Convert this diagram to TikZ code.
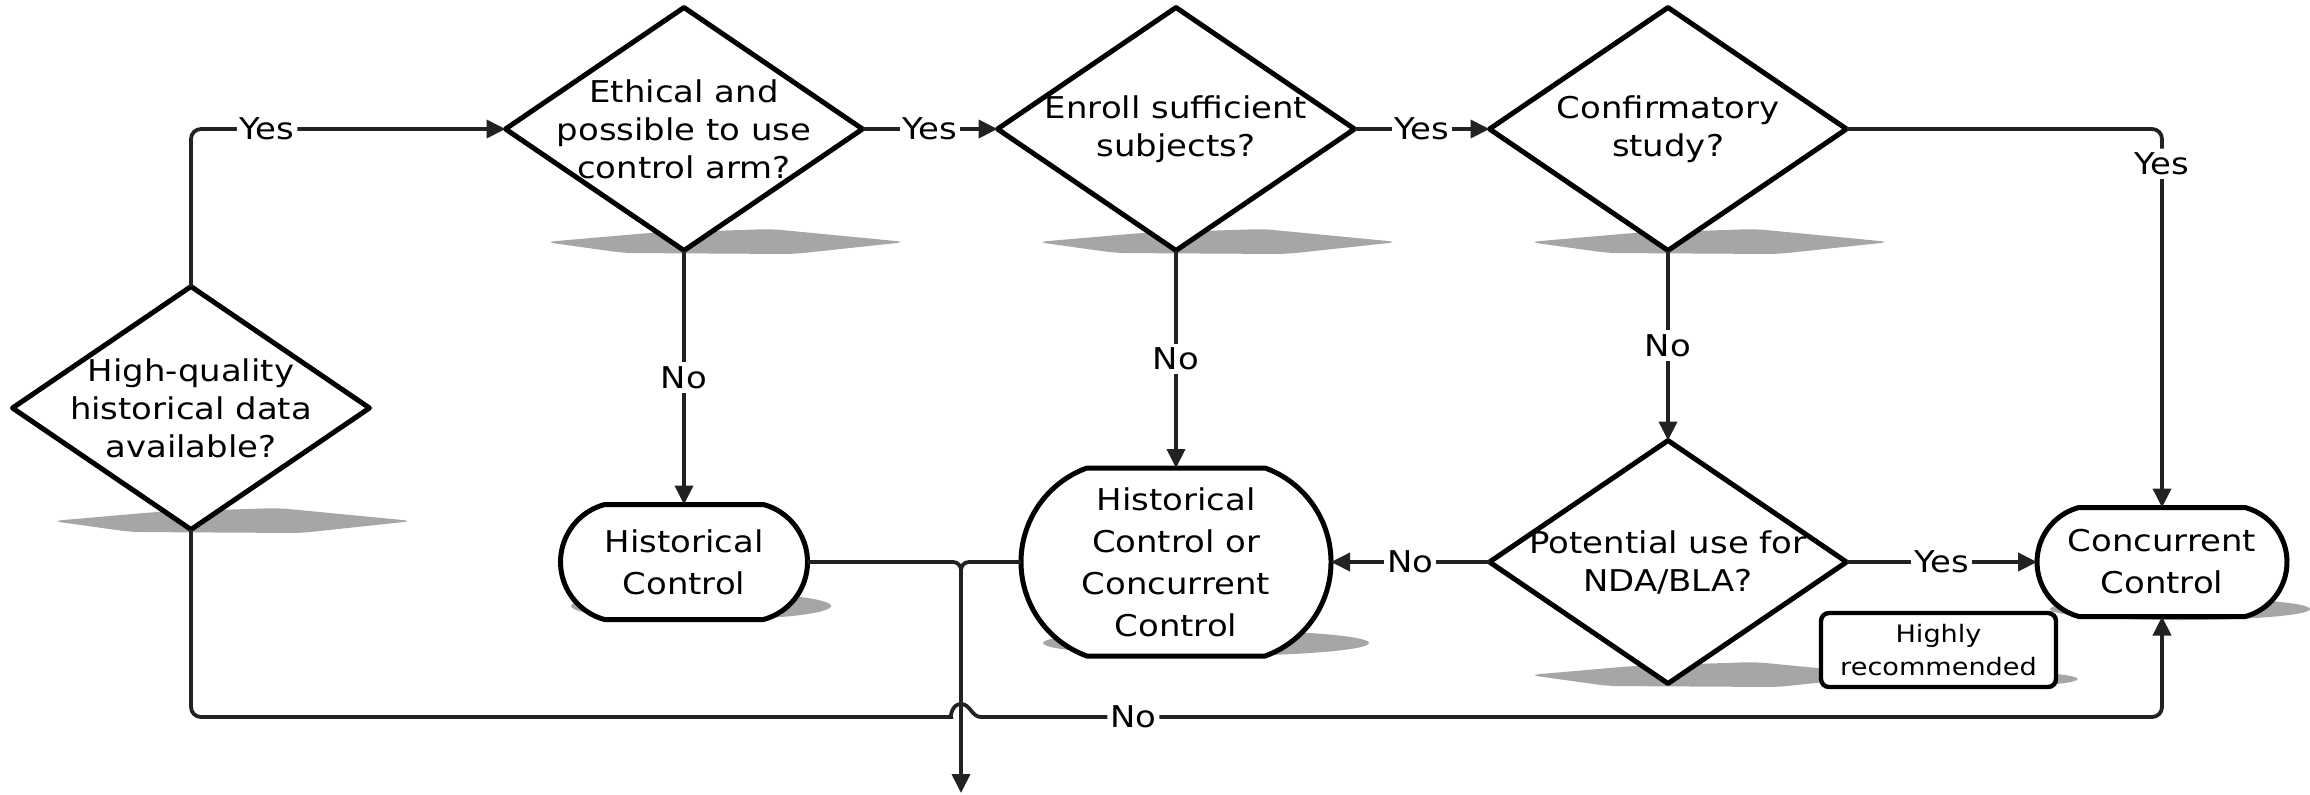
\documentclass[tikz,border=0pt]{standalone}
\usepackage{fontspec}
\setmainfont{DejaVu Sans}[FakeStretch=1.13]
\usetikzlibrary{shapes.geometric,shapes.misc,arrows.meta,calc,backgrounds}
\definecolor{linecol}{HTML}{222222}
\definecolor{shadcol}{HTML}{A6A6A6}
\tikzset{
  dia/.style={diamond, draw=black, line width=2.5pt, line join=round, fill=white,
    minimum width=178.5pt, minimum height=121.5pt, inner sep=0pt, outer sep=0pt},
  term/.style={rounded rectangle, draw=black, line width=2.5pt, fill=white,
    inner sep=0pt, outer sep=0pt},
  note/.style={rectangle, rounded corners=4pt, draw=black, line width=2.2pt, fill=white,
    minimum width=117.5pt, minimum height=37pt, inner sep=0pt, outer sep=0pt,
    align=center, font=\fontsize{12}{16.5}\selectfont},
  txt/.style={align=center, font=\fontsize{15}{19}\selectfont, inner sep=0pt},
  ttxt/.style={align=center, font=\fontsize{15}{21}\selectfont, inner sep=0pt},
  conn/.style={draw=linecol, line width=1.9pt},
  arr/.style={conn, -{Triangle[length=9.5pt,width=9pt]}},
  lab/.style={fill=white, inner xsep=1.5pt, inner ysep=2pt, text=black,
    font=\fontsize{15}{18}\selectfont},
  shad/.style={fill=shadcol, draw=none},
}
\begin{document}
\begin{tikzpicture}[x=0.5pt, y=-0.5pt]
\useasboundingbox (0,0) rectangle (2310,794);

% decisions
\node[dia] (d1) at (191,408) {};
\node[txt] (d1t) at (d1) {High-quality\\historical data\\available?};
\node[dia] (d2) at (684,129) {};
\node[txt] (d2t) at (d2) {Ethical and\\possible to use\\control arm?};
\node[dia] (d3) at (1176,129) {};
\node[txt] (d3t) at (d3) {Enroll sufficient\\subjects?};
\node[dia] (d4) at (1668,129) {};
\node[txt] (d4t) at (d4) {Confirmatory\\study?};
\node[dia] (d5) at (1668,562) {};
\node[txt] (d5t) at (d5) {Potential use for\\NDA/BLA?};

% terminals
\node[term, rounded rectangle arc length=150, minimum width=123.5pt, minimum height=57.5pt] (hc) at (684,562) {};
\node[ttxt] (hct) at (hc) {Historical\\Control};
\node[term, rounded rectangle arc length=140, minimum width=155pt, minimum height=94pt] (hcocc) at (1176,562) {};
\node[ttxt] (hcocct) at (hcocc) {Historical\\Control or\\Concurrent\\Control};
\node[term, rounded rectangle arc length=150, minimum width=125pt, minimum height=54.5pt] (cc) at (2162,562) {};
\node[ttxt] (cct) at (cc) {Concurrent\\Control};
\node[note] (hr) at (1938.5,650) {Highly\\recommended};

% shadows
\begin{pgfonlayer}{background}
  \fill[white] (0,0) rectangle (2310,794);
  \foreach \d in {d1,d2,d3,d4,d5}{
    \fill[shad, rounded corners=5pt] ($(\d)+(-139,113)$) -- ($(\d)+(-35,104)$) -- ($(\d)+(87,100)$)
      -- ($(\d)+(222,113)$) -- ($(\d)+(110,125)$) -- ($(\d)+(-60,124)$) -- cycle;
  }
  \fill[shad] ($(hc)+(17,44)$) ellipse [x radius=65pt, y radius=7pt];
  \fill[shad] ($(hcocc)+(30,81)$) ellipse [x radius=81.5pt, y radius=6.5pt];
  \fill[shad] ($(cc)+(18,47)$) ellipse [x radius=65pt, y radius=5.5pt];
  \fill[shad] ($(hr)+(17,29)$) ellipse [x radius=61pt, y radius=4.5pt];
\end{pgfonlayer}

% connectors
\draw[arr, rounded corners=5pt] (d1.north) |- node[lab, pos=0.621]{Yes} (d2.west);
\draw[arr] (d2.east) -- node[lab]{Yes} (d3.west);
\draw[arr] (d3.east) -- node[lab]{Yes} (d4.west);
\draw[arr, rounded corners=5pt] (d4.east) -| node[lab, pos=0.546]{Yes} (cc.north);
\draw[arr] (d2.south) -- node[lab]{No} (hc.north);
\draw[arr] (d3.south) -- node[lab]{No} (hcocc.north);
\draw[arr] (d4.south) -- node[lab]{No} (d5.north);
\draw[arr] (d5.west) -- node[lab]{No} (hcocc.east);
\draw[arr] (d5.east) -- node[lab]{Yes} (cc.west);

\coordinate (mrg) at (961,640);
\coordinate (outp) at (961,793);
\draw[conn, rounded corners=4pt] (hc.east) -| (mrg);
\draw[arr, rounded corners=4pt] (hcocc.west) -| (outp);

\coordinate (hopL) at (941,717);
\coordinate (hopT) at (961,704);
\coordinate (hopR) at (981,717);
\draw[arr] (d1.south) [rounded corners=5pt] |- (hopL) [sharp corners]
  to[out=0,in=180] (hopT) to[out=0,in=180] (hopR)
  [rounded corners=5pt] -- node[lab, pos=0.129]{No} (hopR -| cc.south) -- (cc.south);
\end{tikzpicture}
\end{document}
